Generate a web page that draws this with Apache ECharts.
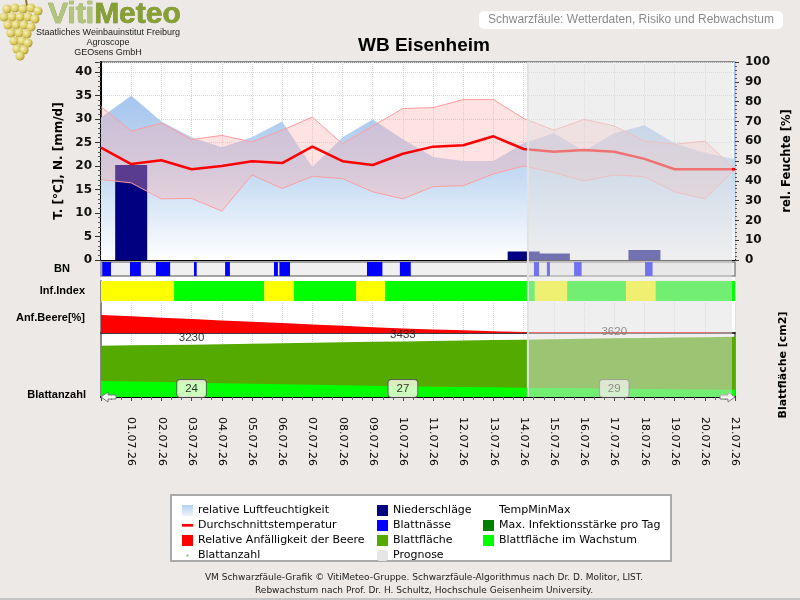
<!DOCTYPE html>
<html>
<head>
<meta charset="utf-8">
<title>Schwarzfäule WB Eisenheim</title>
<script src="https://cdn.jsdelivr.net/npm/echarts@6/dist/echarts.min.js"></script>
<style>
  html, body { margin: 0; padding: 0; background: #ece9e6; }
  #chart { width: 800px; height: 600px; }
</style>
</head>
<body>
<div id="chart"></div>
<script>
  // Datumsbeschriftung (Tick 1..21)
  const dates = ['01.07.26', '02.07.26', '03.07.26', '04.07.26', '05.07.26', '06.07.26', '07.07.26',
    '08.07.26', '09.07.26', '10.07.26', '11.07.26', '12.07.26', '13.07.26', '14.07.26',
    '15.07.26', '16.07.26', '17.07.26', '18.07.26', '19.07.26', '20.07.26', '21.07.26'];

  // Tageswerte, Index 0 = 30.06., 1 = 01.07. ... 21 = 21.07.
  const luftfeuchte = [72, 83, 70, 62, 57, 62, 70, 47, 62, 71, 61, 52, 50, 50, 59, 64, 55, 64, 68, 59, 54, 51];
  const tempMittel = [23.9, 20.4, 21.2, 19.3, 20.0, 21.0, 20.6, 24.1, 21.0, 20.2, 22.6, 24.1, 24.4, 26.3, 23.6, 23.0, 23.4, 23.0, 21.5, 19.3, 19.3, 19.3];
  const tempMax = [32.6, 27.4, 29.1, 25.6, 26.5, 25.1, 27.6, 30.4, 24.7, 28.5, 32.2, 32.4, 34.1, 34.1, 30.1, 27.6, 29.9, 28.5, 25.3, 24.6, 25.3, 19.3];
  const tempMin = [17.1, 16.4, 13.0, 13.1, 10.4, 18.1, 15.2, 17.8, 17.3, 14.5, 13.0, 15.6, 15.8, 18.3, 20.0, 18.6, 16.8, 18.1, 17.7, 14.5, 13.0, 19.3];
  const niederschlag = [0, 20.2, 0, 0, 0, 0, 0, 0, 0, 0, 0, 0, 0, 0, 1.8, 1.4, 0, 0, 2.1, 0, 0, 0];

  // Blattnässe-Perioden (Beginn / Ende in Tagen)
  const bnStart = [0.04, 0.96, 1.82, 3.08, 4.11, 5.73, 5.91, 8.81, 9.90, 14.34, 14.77, 15.67, 18.02];
  const bnEnde = [0.33, 1.32, 2.29, 3.17, 4.27, 5.86, 6.26, 9.32, 10.26, 14.51, 14.87, 15.92, 18.27];

  // Infektionsindex-Abschnitte (1 = mittel / gelb, 0 = gering / grün)
  const infStart = [0, 2.42, 5.41, 6.39, 8.45, 9.41, 14.37, 15.44, 17.39, 18.37];
  const infEnde = [2.42, 5.41, 6.39, 8.45, 9.41, 14.37, 15.44, 17.39, 18.37, 21];
  const infStufe = [1, 0, 1, 0, 1, 0, 1, 0, 1, 0];

  const anfBeere = [60, 55.5, 51, 46.5, 42, 37.5, 33, 28.5, 24, 19.5, 15, 12, 9, 6, 3.5, 3, 3, 3, 3, 3, 3, 3];
  const blattflaeche = [3166, 3187, 3208, 3230, 3259, 3288, 3317, 3346, 3375, 3404, 3433, 3460, 3487, 3514, 3541, 3567, 3594, 3620, 3645, 3670, 3695, 3720];
  const blattWachstum = [990, 955, 920, 885, 850, 820, 790, 755, 725, 690, 660, 638, 616, 595, 575, 556, 537, 518, 500, 482, 465, 445];
  const blattTage = [3, 10, 17];
  const blattanzahl = [24, 27, 29];
  const prognose = [14.14, 20.9];

  const xy = arr => arr.map((v, i) => [i, v]);

  const PLOT_LEFT = 101, PLOT_W = 634, PLOT_TOP = 62;
  const dotted = { show: true, lineStyle: { color: '#d6d6d6', type: 'dotted', width: 1 } };
  const tickFont = { fontFamily: 'DejaVu Sans', fontWeight: 'bold', fontSize: 12, color: '#111' };
  const rowLabel = { fontFamily: 'Liberation Sans', fontWeight: 'bold', fontSize: 11, color: '#000' };
  const grey = { show: true, lineStyle: { color: '#888', width: 2 } };

  function xAx(i, extra) {
    return Object.assign({
      type: 'value', gridIndex: i, min: 0, max: 21, interval: 1,
      axisLabel: { show: false }, axisTick: { show: false },
      axisLine: { show: false }, splitLine: { show: false }
    }, extra);
  }

  function rowRect(color) {
    return function (params, api) {
      const p0 = api.coord([api.value(0), 1]);
      const p1 = api.coord([api.value(1), 0]);
      return {
        type: 'rect',
        shape: { x: p0[0], y: p0[1], width: p1[0] - p0[0], height: p1[1] - p0[1] },
        style: { fill: typeof color === 'function' ? color(api) : color }
      };
    };
  }

  const chart = echarts.init(document.getElementById('chart'));

  const grapes = [[7, 9], [15, 8], [23, 9], [31, 8], [38, 11], [4, 17], [12, 17], [20, 17], [28, 17], [35, 19],
    [8, 25], [16, 25], [24, 25], [31, 27], [11, 33], [19, 33], [27, 34], [14, 41], [22, 41], [28, 43],
    [17, 49], [24, 50], [20, 56]];

  const option = {
    animation: false,
    backgroundColor: '#ece9e6',
    title: [{
      text: 'WB Eisenheim', left: 358, top: 36, padding: 0,
      textStyle: { fontFamily: 'Liberation Sans', fontWeight: 'bold', fontSize: 19, color: '#000' }
    }, {
      text: 'Schwarzfäule: Wetterdaten, Risiko und Rebwachstum', right: 17, top: 11,
      backgroundColor: '#fff', borderRadius: 5, padding: [3, 9],
      textStyle: { fontFamily: 'Liberation Sans', fontWeight: 'normal', fontSize: 12, color: '#8a8a8a' }
    }],
    grid: [
      { left: PLOT_LEFT, width: PLOT_W, top: PLOT_TOP, height: 198, show: true, backgroundColor: '#fff', borderColor: '#888', borderWidth: 2, outerBoundsMode: 'none' },
      { left: PLOT_LEFT, width: PLOT_W, top: 262, height: 14, show: true, backgroundColor: '#f0f0f0', borderColor: '#888', borderWidth: 1.5, outerBoundsMode: 'none' },
      { left: PLOT_LEFT, width: PLOT_W, top: 281, height: 20, outerBoundsMode: 'none' },
      { left: PLOT_LEFT, width: PLOT_W, top: 303, height: 30, outerBoundsMode: 'none' },
      { left: PLOT_LEFT, width: PLOT_W, top: 333, height: 64, outerBoundsMode: 'none' }
    ],
    xAxis: [
      xAx(0, { axisLine: { show: true, lineStyle: { color: '#000', width: 2 } }, splitLine: dotted }),
      xAx(1),
      xAx(2),
      xAx(3, { axisLine: { show: true, lineStyle: { color: '#000', width: 1.5 } }, splitLine: dotted }),
      xAx(4, {
        axisLine: { show: true, lineStyle: { color: '#000', width: 2 } },
        splitLine: dotted,
        axisTick: { show: true, length: 4, lineStyle: { color: '#444' } },
        minorTick: { show: true, splitNumber: 3, length: 3, lineStyle: { color: '#666' } },
        axisLabel: {
          show: true, rotate: -90, margin: 20,
          fontFamily: 'DejaVu Sans', fontSize: 11, color: '#000',
          formatter: v => (v >= 1 && v <= dates.length ? dates[v - 1] : '')
        }
      })
    ],
    yAxis: [
      {
        type: 'value', gridIndex: 0, position: 'left', min: 0, max: 42.1, interval: 5,
        axisLine: { show: true, lineStyle: { color: '#000', width: 2 } },
        axisTick: { show: true, length: 6, lineStyle: { color: '#333' } },
        minorTick: { show: true, splitNumber: 5, length: 3, lineStyle: { color: '#555' } },
        splitLine: dotted,
        axisLabel: Object.assign({ margin: 9, formatter: v => (v % 5 === 0 ? String(v) : '') }, tickFont),
        name: 'T. [°C], N. [mm/d]', nameLocation: 'middle', nameGap: 34,
        nameTextStyle: { fontFamily: 'DejaVu Sans', fontWeight: 'bold', fontSize: 12, color: '#000' }
      },
      {
        type: 'value', gridIndex: 0, position: 'right', min: 0, max: 100, interval: 10,
        axisLine: { show: true, lineStyle: { color: '#a8c6ec', width: 2 } },
        axisTick: { show: true, length: 4, lineStyle: { color: '#333' } },
        minorTick: { show: true, splitNumber: 5, length: 2, lineStyle: { color: '#555' } },
        splitLine: { show: false },
        axisLabel: Object.assign({ margin: 10 }, tickFont),
        name: 'rel. Feuchte [%]', nameLocation: 'middle', nameGap: 40,
        nameTextStyle: { fontFamily: 'DejaVu Sans', fontWeight: 'bold', fontSize: 11.5, color: '#000' }
      },
      {
        type: 'value', gridIndex: 1, min: 0, max: 1, axisLabel: { show: false }, axisTick: { show: false },
        axisLine: { show: false }, splitLine: { show: false },
        name: 'BN', nameLocation: 'middle', nameRotate: 0, nameGap: 31, nameTextStyle: rowLabel
      },
      {
        type: 'value', gridIndex: 2, min: 0, max: 1, axisLabel: { show: false }, axisTick: { show: false },
        axisLine: grey, splitLine: { show: false },
        name: 'Inf.Index', nameLocation: 'middle', nameRotate: 0, nameGap: 16, nameTextStyle: rowLabel
      },
      {
        type: 'value', gridIndex: 3, min: 0, max: 100, axisLabel: { show: false }, axisTick: { show: false },
        axisLine: grey, splitLine: { show: false },
        name: 'Anf.Beere[%]', nameLocation: 'middle', nameRotate: 0, nameGap: 16, nameTextStyle: rowLabel
      },
      {
        type: 'value', gridIndex: 4, min: 0, max: 3950, axisLabel: { show: false }, axisTick: { show: false },
        axisLine: grey, splitLine: { show: false }
      },
      {
        type: 'value', gridIndex: 4, position: 'right', min: 0, max: 3950, axisLabel: { show: false },
        axisTick: { show: false }, axisLine: grey, splitLine: { show: false },
        name: 'Blattfläche [cm2]', nameLocation: 'middle', nameGap: 43,
        nameTextStyle: { fontFamily: 'DejaVu Sans', fontWeight: 'bold', fontSize: 11, color: '#000' }
      }
    ],
    legend: [{
      orient: 'vertical', left: 177, top: 500, itemWidth: 11, itemHeight: 11, itemGap: 4, selectedMode: false,
      textStyle: { fontFamily: 'DejaVu Sans', fontSize: 11, color: '#000' },
      data: [
        { name: 'relative Luftfeuchtigkeit', icon: 'rect', itemStyle: { color: new echarts.graphic.LinearGradient(0, 0, 0, 1, [{ offset: 0, color: '#b4d0f0' }, { offset: 1, color: '#f0f5fc' }]) } },
        { name: 'Durchschnittstemperatur', icon: 'path://M0,0M0,4.3L12,4.3L12,7.3L0,7.3ZM12,12', itemStyle: { color: '#ff0000' } },
        { name: 'Relative Anfälligkeit der Beere', icon: 'rect', itemStyle: { color: '#ff0000' } },
        { name: 'Blattanzahl', icon: 'path://M0,0M5,5L7,5L7,7L5,7ZM12,12', itemStyle: { color: '#3c9a3c' } }
      ]
    }, {
      orient: 'vertical', left: 372, top: 500, itemWidth: 11, itemHeight: 11, itemGap: 4, selectedMode: false,
      textStyle: { fontFamily: 'DejaVu Sans', fontSize: 11, color: '#000' },
      data: [
        { name: 'Niederschläge', icon: 'rect', itemStyle: { color: '#000080' } },
        { name: 'Blattnässe', icon: 'rect', itemStyle: { color: '#0000ff' } },
        { name: 'Blattfläche', icon: 'rect', itemStyle: { color: '#55aa00' } },
        { name: 'Prognose', icon: 'roundRect', itemStyle: { color: '#e6e6e6' } }
      ]
    }, {
      orient: 'vertical', left: 478, top: 500, itemWidth: 11, itemHeight: 11, itemGap: 4, selectedMode: false,
      textStyle: { fontFamily: 'DejaVu Sans', fontSize: 11, color: '#000' },
      data: [
        { name: 'TempMinMax', icon: 'rect', itemStyle: { color: '#fff', opacity: 0 } },
        { name: 'Max. Infektionsstärke pro Tag', icon: 'rect', itemStyle: { color: '#008000' } },
        { name: 'Blattfläche im Wachstum', icon: 'rect', itemStyle: { color: '#00ff00' } }
      ]
    }],
    series: [
      {
        type: 'line', name: 'relative Luftfeuchtigkeit', xAxisIndex: 0, yAxisIndex: 1, z: 1,
        data: xy(luftfeuchte), symbol: 'none', lineStyle: { width: 0 },
        itemStyle: { color: '#a6c6ee' },
        areaStyle: {
          opacity: 1,
          color: new echarts.graphic.LinearGradient(0, 0, 0, 1, [
            { offset: 0, color: '#a6c6ee' }, { offset: 0.5, color: '#c6dbf3' }, { offset: 1, color: '#ffffff' }])
        }
      },
      {
        type: 'bar', name: 'Niederschläge', xAxisIndex: 0, yAxisIndex: 0, z: 2,
        data: xy(niederschlag), barWidth: 32, itemStyle: { color: '#000080' }
      },
      {
        // Band zwischen Tmin und Tmax
        type: 'custom', name: 'TempMinMax', xAxisIndex: 0, yAxisIndex: 0, z: 3, silent: true,
        data: tempMax.map((v, i) => [i, tempMin[i], v]), encode: { x: 0, y: [1, 2] },
        itemStyle: { color: '#ff9d9d' },
        renderItem: function (params, api) {
          if (params.dataIndex !== 0) return null;
          const upper = tempMax.map((v, i) => api.coord([i, v]));
          const lower = tempMin.map((v, i) => api.coord([i, v])).reverse();
          return { type: 'polygon', shape: { points: upper.concat(lower) }, style: { fill: 'rgba(255,172,172,0.35)' } };
        }
      },
      {
        type: 'line', name: 'TempMinMax', xAxisIndex: 0, yAxisIndex: 0, z: 3,
        data: xy(tempMin), symbol: 'none', lineStyle: { color: '#ff9d9d', width: 1 }, itemStyle: { color: '#ff9d9d' }
      },
      {
        type: 'line', name: 'TempMinMax', xAxisIndex: 0, yAxisIndex: 0, z: 3,
        data: xy(tempMax), symbol: 'none', lineStyle: { color: '#ff9d9d', width: 1 }, itemStyle: { color: '#ff9d9d' }
      },
      {
        type: 'line', name: 'Durchschnittstemperatur', xAxisIndex: 0, yAxisIndex: 0, z: 4,
        data: xy(tempMittel), symbol: 'none', lineStyle: { color: '#ff0000', width: 2.5 }, itemStyle: { color: '#ff0000' }
      },
      {
        type: 'custom', name: 'Blattnässe', xAxisIndex: 1, yAxisIndex: 2, z: 2,
        data: bnStart.map((s, i) => [s, bnEnde[i]]), encode: { x: [0, 1] },
        itemStyle: { color: '#0000ff' }, renderItem: rowRect('#0000ff')
      },
      {
        type: 'custom', name: 'Max. Infektionsstärke pro Tag', xAxisIndex: 2, yAxisIndex: 3, z: 2,
        data: infStart.map((s, i) => [s, infEnde[i], infStufe[i]]), encode: { x: [0, 1] },
        itemStyle: { color: '#008000' },
        renderItem: rowRect(api => (api.value(2) === 1 ? '#ffff00' : '#00ff00'))
      },
      {
        type: 'line', name: 'Relative Anfälligkeit der Beere', xAxisIndex: 3, yAxisIndex: 4, z: 2,
        data: xy(anfBeere), symbol: 'none', lineStyle: { width: 0 }, itemStyle: { color: '#ff0000' },
        areaStyle: { color: '#ff0000', opacity: 1 }
      },
      {
        type: 'line', name: 'Blattfläche', xAxisIndex: 4, yAxisIndex: 5, z: 2,
        data: xy(blattflaeche), symbol: 'none', lineStyle: { width: 0 }, itemStyle: { color: '#55aa00' },
        areaStyle: { color: '#55aa00', opacity: 1 }
      },
      {
        type: 'line', name: 'Blattfläche im Wachstum', xAxisIndex: 4, yAxisIndex: 5, z: 3,
        data: xy(blattWachstum), symbol: 'none', lineStyle: { width: 0 }, itemStyle: { color: '#00ff00' },
        areaStyle: { color: '#00ff00', opacity: 1 }
      },
      {
        type: 'scatter', name: 'Blattflächenwert', xAxisIndex: 4, yAxisIndex: 5, z: 5, silent: true,
        data: blattTage.map(d => [d, blattflaeche[d]]), symbolSize: 0,
        label: {
          show: true, position: 'top', distance: 1, formatter: p => p.value[1],
          fontFamily: 'Liberation Sans', fontSize: 11.5, color: '#000'
        }
      },
      {
        type: 'scatter', name: 'Blattanzahl', xAxisIndex: 4, yAxisIndex: 5, z: 6, silent: true,
        data: blattTage.map((d, i) => [d, 0, blattanzahl[i]]), symbolSize: 0, itemStyle: { color: '#3c9a3c' },
        label: {
          show: true, position: 'top', distance: 0, formatter: p => p.value[2],
          fontFamily: 'Liberation Sans', fontSize: 11.5, color: '#000',
          backgroundColor: '#ffffee', borderColor: '#555', borderWidth: 1, borderRadius: 3, padding: [3, 8, 2, 8]
        }
      },
      {
        type: 'custom', name: 'Prognose', xAxisIndex: 4, yAxisIndex: 5, z: 50, silent: true,
        data: [[prognose[0], prognose[1]]], encode: { x: [0, 1] }, itemStyle: { color: '#e6e6e6' },
        renderItem: function (params, api) {
          const x0 = api.coord([api.value(0), 0])[0];
          const x1 = api.coord([api.value(1), 0])[0];
          const bottom = params.coordSys.y + params.coordSys.height;
          return {
            type: 'group',
            children: [
              { type: 'rect', shape: { x: x0, y: PLOT_TOP, width: x1 - x0, height: bottom - PLOT_TOP }, style: { fill: 'rgba(224,224,224,0.51)' } },
              { type: 'line', shape: { x1: x0, y1: PLOT_TOP, x2: x0, y2: bottom }, style: { stroke: '#e2e2e2', lineWidth: 2 } }
            ]
          };
        }
      }
    ],
    graphic: [
      // weißer Hintergrund der Zeilen
      { type: 'rect', z: -1, shape: { x: PLOT_LEFT, y: 260, width: PLOT_W, height: 137 }, style: { fill: '#fff' } },
      // Logo
      { type: 'line', shape: { x1: 26, y1: 0, x2: 27, y2: 6 }, style: { stroke: '#8a7a30', lineWidth: 2 } },
      {
        type: 'group',
        children: grapes.map(g => ({
          type: 'circle', shape: { cx: g[0], cy: g[1], r: 4.6 },
          style: {
            fill: new echarts.graphic.RadialGradient(0.35, 0.35, 0.7, [
              { offset: 0, color: '#f6f0c0' }, { offset: 0.6, color: '#dccd62' }, { offset: 1, color: '#a99530' }])
          }
        }))
      },
      {
        type: 'text', x: 48, y: 0,
        style: {
          text: '{a|Viti}{b|Meteo}', font: 'bold 30px "Liberation Sans"',
          rich: {
            a: { font: 'bold 30px "Liberation Sans"', fill: '#b3c47c', stroke: '#7d923a', lineWidth: 0.6 },
            b: { font: 'bold 30px "Liberation Sans"', fill: '#86a032', stroke: '#5f7620', lineWidth: 0.6 }
          }
        }
      },
      {
        type: 'text', x: 108, y: 28,
        style: {
          text: 'Staatliches Weinbauinstitut Freiburg\nAgroscope\nGEOsens GmbH',
          font: '9px "Liberation Sans"', fill: '#222', textAlign: 'center', lineHeight: 10
        }
      },
      // Zeilenbeschriftung unten
      {
        type: 'text', x: 86, y: 395,
        style: { text: 'Blattanzahl', font: 'bold 11px "Liberation Sans"', fill: '#000', textAlign: 'right', textVerticalAlign: 'middle' }
      },
      // Pfeile an der Zeitachse
      {
        type: 'polygon', z: 10,
        shape: { points: [[101, 397], [108, 392], [108, 395], [116, 395], [116, 399], [108, 399], [108, 402]] },
        style: { fill: '#fff', stroke: '#777', lineWidth: 1 }
      },
      {
        type: 'polygon', z: 10,
        shape: { points: [[735, 397], [728, 392], [728, 395], [720, 395], [720, 399], [728, 399], [728, 402]] },
        style: { fill: '#fff', stroke: '#777', lineWidth: 1 }
      },
      // Legendenrahmen
      { type: 'rect', z: -1, shape: { x: 171, y: 495, width: 500, height: 66 }, style: { fill: '#fff', stroke: '#aaa', lineWidth: 2 } },
      // Fußzeile
      {
        type: 'text', x: 424, y: 571,
        style: {
          text: 'VM Schwarzfäule-Grafik © VitiMeteo-Gruppe. Schwarzfäule-Algorithmus nach Dr. D. Molitor, LIST.\nRebwachstum nach Prof. Dr. H. Schultz, Hochschule Geisenheim University.',
          font: '9px "DejaVu Sans"', fill: '#222', textAlign: 'center', lineHeight: 13
        }
      },
      { type: 'rect', shape: { x: 0, y: 598, width: 800, height: 2 }, style: { fill: '#c4c4c4' } }
    ]
  };

  chart.setOption(option);
</script>
</body>
</html>
